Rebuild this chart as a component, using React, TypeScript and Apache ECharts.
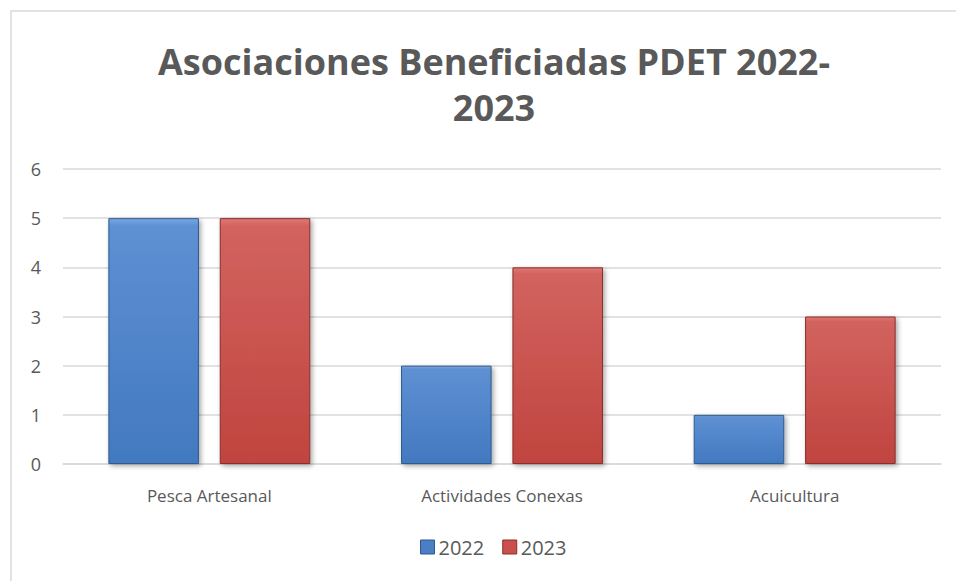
import React, { useEffect, useRef } from "react";
import * as echarts from "echarts";

const categories = ["Pesca Artesanal", "Actividades Conexas", "Acuicultura"];
const seriesNames = ["2022", "2023"];
const values2022 = [5, 2, 1];
const values2023 = [5, 4, 3];
const titleText = "Asociaciones Beneficiadas PDET 2022-\n2023";

const FONT = "'Open Sans', 'Noto Sans', sans-serif";
const TEXT = "#595959";

const blueGrad = new echarts.graphic.LinearGradient(0, 0, 0, 1, [
  { offset: 0, color: "#7aa8e0" },
  { offset: 0.03, color: "#5e90d3" },
  { offset: 1, color: "#4279c0" },
]);
const redGrad = new echarts.graphic.LinearGradient(0, 0, 0, 1, [
  { offset: 0, color: "#e07874" },
  { offset: 0.03, color: "#d2635f" },
  { offset: 1, color: "#c0443f" },
]);

export default function App() {
  const ref = useRef<HTMLDivElement>(null);
  useEffect(() => {
    if (!ref.current) return;
    const chart = echarts.init(ref.current, null, { renderer: "svg" });
    const shadow = {
      shadowBlur: 5,
      shadowColor: "rgba(0,0,0,0.35)",
      shadowOffsetX: 2,
      shadowOffsetY: 2,
    };
    chart.setOption({
      animation: false,
      backgroundColor: "#ffffff",
      title: {
        text: titleText,
        left: 489,
        textAlign: "center",
        top: 33,
        textStyle: {
          fontFamily: FONT,
          fontSize: 36,
          fontWeight: "bold",
          color: TEXT,
          lineHeight: 46,
        },
      },
      graphic: [
        {
          type: "polyline",
          shape: { points: [[11, 581], [11, 11], [956, 11]] },
          style: { stroke: "#d9d9d9", lineWidth: 1.5, fill: "none" },
          silent: true,
        },
      ],
      legend: {
        data: [
          { name: seriesNames[0], itemStyle: { color: "#4a7fc6", borderColor: "#2f5a8e", borderWidth: 1 } },
          { name: seriesNames[1], itemStyle: { color: "#c9504c", borderColor: "#8a2e2b", borderWidth: 1 } },
        ],
        bottom: 19,
        left: 415,
        icon: "rect",
        itemWidth: 14,
        itemHeight: 14,
        itemGap: 18,
        textStyle: { fontFamily: FONT, fontSize: 20, color: TEXT, padding: [0, 0, 0, -1] },
      },
      grid: { left: 63, right: 15, top: 169, bottom: 117 },
      xAxis: {
        type: "category",
        data: categories,
        axisLine: { lineStyle: { color: "#d9d9d9", width: 1.5 } },
        axisTick: { show: false },
        axisLabel: { fontFamily: FONT, fontSize: 17, color: TEXT, margin: 23 },
      },
      yAxis: {
        type: "value",
        min: 0,
        max: 6,
        interval: 1,
        axisLine: { show: false },
        axisTick: { show: false },
        splitLine: { lineStyle: { color: "#d9d9d9", width: 1.5 } },
        axisLabel: { fontFamily: FONT, fontSize: 18, color: TEXT, margin: 22 },
      },
      series: [
        {
          name: seriesNames[0],
          type: "bar",
          data: values2022,
          barCategoryGap: "31%",
          barGap: "23%",
          itemStyle: { color: blueGrad, borderColor: "#2f5a8e", borderWidth: 1, ...shadow },
        },
        {
          name: seriesNames[1],
          type: "bar",
          data: values2023,
          barCategoryGap: "31%",
          barGap: "23%",
          itemStyle: { color: redGrad, borderColor: "#8a2e2b", borderWidth: 1, ...shadow },
        },
      ],
    });
    return () => chart.dispose();
  }, []);
  return (
    <div
      ref={ref}
      style={{ position: "fixed", left: 0, top: 0, width: 956, height: 581 }}
    />
  );
}
